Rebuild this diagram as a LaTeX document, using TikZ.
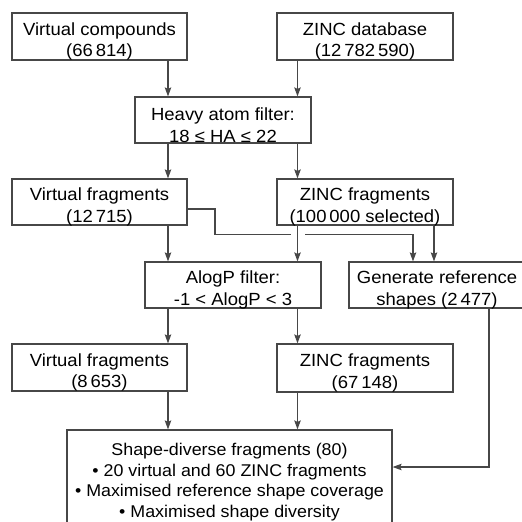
\documentclass[tikz,border=0pt]{standalone}
\usepackage{fontspec}
\setmainfont{Liberation Sans}[FakeStretch=1.05]
\usetikzlibrary{arrows.meta,calc}
\begin{document}
\begin{tikzpicture}[x=1pt,y=-1pt,
  box/.style={draw=black!72, line width=1.2pt, inner sep=0pt},
  txt/.style={align=center, inner sep=0pt, font=\fontsize{17.6}{21.7}\selectfont},
  bigtxt/.style={align=center, inner sep=0pt, font=\fontsize{17}{20.6}\selectfont},
  arr/.style={draw=black!72, line width=1.2pt, -{Stealth[length=9pt,width=6.5pt,inset=1.5pt]}},
  link/.style={draw=black!72, line width=1.2pt}]
\useasboundingbox (0,0) rectangle (522,522);
\clip (0,0) rectangle (522,522);

% guide columns for the vertical connectors
\coordinate (colA) at (168,0);
\coordinate (colB) at (297.5,0);
\coordinate (colC) at (413,0);
\coordinate (colD) at (434,0);
\coordinate (colE) at (489,0);
\coordinate (elb) at (215,234.5);
\coordinate (fb) at (0,467);

% boxes
\node[box, minimum width=175pt, minimum height=47pt,
  label={[txt,yshift=-5pt]center:{Virtual compounds\\(66\,814)}}] (vc) at (99.5,36.5) {};
\node[box, minimum width=176pt, minimum height=47pt,
  label={[txt,yshift=-5pt]center:{ZINC database\\(12\,782\,590)}}] (zdb) at (365,36.5) {};
\node[box, minimum width=176pt, minimum height=46pt,
  label={[txt,yshift=-5pt]center:{Heavy atom filter:\\18 ≤ HA ≤ 22}}] (haf) at (223,120) {};
\node[box, minimum width=175pt, minimum height=46pt,
  label={[txt,yshift=-5pt]center:{Virtual fragments\\(12\,715)}}] (vf1) at (99.5,202) {};
\node[box, minimum width=176pt, minimum height=46pt,
  label={[txt,yshift=-5pt]center:{ZINC fragments\\(100\,000 selected)}}] (zf1) at (365,202) {};
\node[box, minimum width=176pt, minimum height=46pt,
  label={[txt,yshift=-5pt]center:{AlogP filter:\\-1 < AlogP < 3}}] (alog) at (233,285) {};
\node[box, minimum width=176pt, minimum height=46pt,
  label={[txt,yshift=-5pt]center:{Generate reference\\shapes (2\,477)}}] (gen) at (437,285) {};
\node[box, minimum width=175pt, minimum height=47pt,
  label={[txt,yshift=-5pt]center:{Virtual fragments\\(8\,653)}}] (vf2) at (99.5,367.5) {};
\node[box, minimum width=176pt, minimum height=48pt,
  label={[txt,yshift=-5pt]center:{ZINC fragments\\(67\,148)}}] (zf2) at (365,368) {};
\node[box, minimum width=325pt, minimum height=110pt,
  label={[bigtxt,anchor=north,yshift=-13.5pt]north:{Shape-diverse fragments (80)\\• 20 virtual and 60 ZINC fragments\\• Maximised reference shape coverage\\• Maximised shape diversity}}] (sd) at (229.5,485) {};

% connectors
\draw[arr] (vc.south -| colA) -- (haf.north -| colA);
\draw[arr] (zdb.south -| colB) -- (haf.north -| colB);
\draw[arr] (haf.south -| colA) -- (vf1.north -| colA);
\draw[arr] (haf.south -| colB) -- (zf1.north -| colB);
\draw[arr] ([yshift=-7pt]vf1.east) -| (elb) -| (gen.north -| colC);
% break in the routed line where the ZINC arrow crosses it
\fill[white] ($(colB |- elb)+(-7,-3)$) rectangle ($(colB |- elb)+(7,3)$);
\draw[arr] (zf1.south -| colB) -- (alog.north -| colB);
\draw[arr] (zf1.south -| colD) -- (gen.north -| colD);
\draw[arr] (vf1.south -| colA) -- (alog.north -| colA);
\draw[arr] (alog.south -| colA) -- (vf2.north -| colA);
\draw[arr] (alog.south -| colB) -- (zf2.north -| colB);
\draw[arr] (vf2.south -| colA) -- (sd.north -| colA);
\draw[arr] (zf2.south -| colB) -- (sd.north -| colB);
\draw[arr] (gen.south -| colE) |- (sd.east |- fb);
\end{tikzpicture}
\end{document}
